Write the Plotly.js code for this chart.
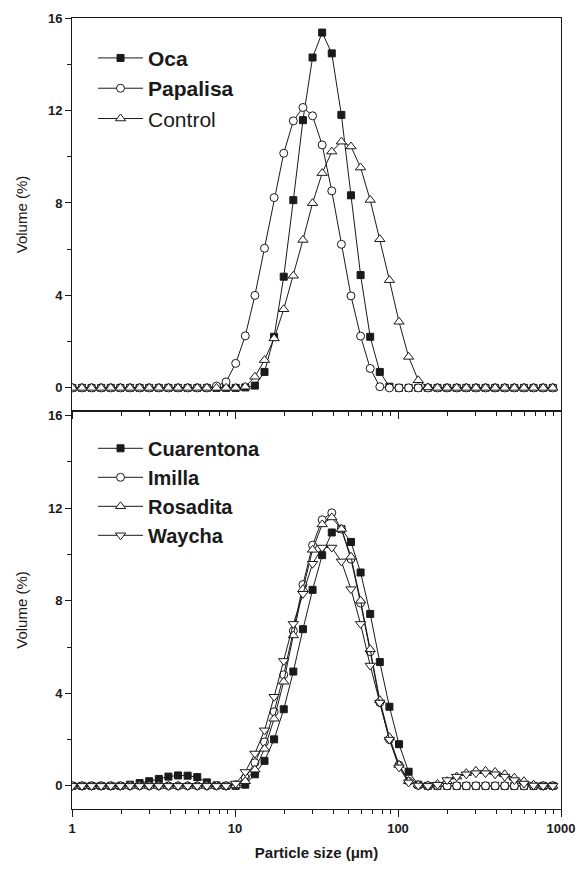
<!DOCTYPE html>
<html>
<head>
<meta charset="utf-8">
<script src="https://cdn.plot.ly/plotly-3.0.1.min.js"></script>
<style>body{margin:0;background:#fff}#chart{width:579px;height:869px}</style>
</head>
<body>
<div id="chart"></div>
<script>
// Particle size bins (µm)
const particleSize = [1.005,1.151,1.318,1.510,1.729,1.981,2.269,2.599,2.976,3.409,3.905,4.472,5.122,5.867,6.720,7.697,8.816,10.097,11.565,13.246,15.172,17.377,19.904,22.797,26.111,29.907,34.255,39.234,44.938,51.471,58.953,67.523,77.339,88.583,101.46,116.21,133.10,152.45,174.62,200.00,229.08,262.37,300.52,344.21,394.24,451.56,517.20,592.39,678.50,777.13,890.11];

// Top panel (Volume %)
const ocaVol = [0,0,0,0,0,0,0,0,0,0,0,0,0,0,0,0,0,0,0.02,0.1,0.69,2.21,4.81,8.12,11.58,14.29,15.37,14.47,11.81,8.33,4.88,2.21,0.69,0.05,0,0,0,0,0,0,0,0,0,0,0,0,0,0,0,0,0];
const papalisaVol = [0,0,0,0,0,0,0,0,0,0,0,0,0,0,0,0.08,0.26,1.06,2.25,4.0,6.04,8.23,10.15,11.55,12.13,11.77,10.51,8.52,6.21,3.98,2.24,0.84,0.05,0,0,0,0,0,0,0,0,0,0,0,0,0,0,0,0,0,0];
const controlVol = [0,0,0,0,0,0,0,0,0,0,0,0,0,0,0,0,0,0,0.05,0.48,1.2,2.14,3.4,4.85,6.4,7.99,9.29,10.22,10.65,10.44,9.53,8.13,6.43,4.66,2.86,1.34,0.33,0.02,0,0,0,0,0,0,0,0,0,0,0,0,0];

// Bottom panel (Volume %)
const cuarentonaVol = [0,0,0,0,0,0,0.05,0.12,0.2,0.3,0.4,0.45,0.44,0.38,0.15,0.02,0,0,0.05,0.5,1.08,2.01,3.31,4.94,6.77,8.47,9.97,10.95,11.1,10.54,9.22,7.43,5.35,3.42,1.8,0.61,0.05,0,0,0,0,0,0,0,0,0,0,0,0,0,0];
const imillaVol = [0,0,0,0,0,0,0,0,0,0,0,0,0,0,0,0,0,0.05,0.35,1.0,1.9,3.2,4.8,6.7,8.7,10.4,11.5,11.8,11.1,9.8,7.9,5.8,3.6,2.0,0.9,0.2,0.02,0,0,0,0,0,0,0,0,0,0,0,0,0,0];
const rosaditaVol = [0,0,0,0,0,0,0,0,0,0,0,0,0,0,0,0,0,0.02,0.2,0.7,1.6,2.9,4.5,6.5,8.5,10.2,11.3,11.6,11.1,9.9,8.0,5.9,3.7,2.1,0.9,0.2,0.05,0.02,0.08,0.2,0.4,0.55,0.65,0.65,0.6,0.5,0.35,0.2,0.05,0,0];
const waychaVol = [0,0,0,0,0,0,0,0,0,0,0,0,0,0,0,0,0,0.1,0.6,1.4,2.4,3.85,5.4,7.0,8.3,9.6,10.3,10.3,9.7,8.5,7.0,5.2,3.6,2.0,0.8,0.15,0.02,0,0.05,0.25,0.4,0.5,0.55,0.55,0.5,0.4,0.25,0.1,0.02,0,0];

const topNames = ['<b>Oca</b>','<b>Papalisa</b>','Control'];
const bottomNames = ['<b>Cuarentona</b>','<b>Imilla</b>','<b>Rosadita</b>','<b>Waycha</b>'];
const xTickVals = [1,10,100,1000];
const xTickText = ['1','10','100','1000'];
const yTickVals = [0,4,8,12,16];

const FONT = 'Arial, "Liberation Sans", sans-serif';
const INK = '#1a1a1a';

function tr(y, name, sym, fill, xa, ya, leg, size) {
  return {
    x: particleSize, y: y, name: name, type: 'scatter', mode: 'lines+markers',
    xaxis: xa, yaxis: ya, legend: leg,
    line: {color: INK, width: 1},
    marker: {symbol: sym, size: size, color: fill, line: {color: INK, width: 1}}
  };
}

const data = [
  tr(ocaVol, topNames[0], 'square', INK, 'x2', 'y2', 'legend', 7),
  tr(papalisaVol, topNames[1], 'circle', '#fff', 'x2', 'y2', 'legend', 8),
  tr(controlVol, topNames[2], 'triangle-up', '#fff', 'x2', 'y2', 'legend', 9),
  tr(cuarentonaVol, bottomNames[0], 'square', INK, 'x', 'y', 'legend2', 7),
  tr(imillaVol, bottomNames[1], 'circle', '#fff', 'x', 'y', 'legend2', 8),
  tr(rosaditaVol, bottomNames[2], 'triangle-up', '#fff', 'x', 'y', 'legend2', 9),
  tr(waychaVol, bottomNames[3], 'triangle-down', '#fff', 'x', 'y', 'legend2', 9)
];

const split = 398/791;

function xAxis(showLabels, domainAnchor) {
  return {
    type: 'log', range: [0, 3], anchor: domainAnchor,
    showline: true, linecolor: INK, linewidth: 1, mirror: true,
    ticks: 'outside', ticklen: 7, tickwidth: 1, tickcolor: INK,
    tickvals: xTickVals, ticktext: xTickText, showticklabels: showLabels,
    tickfont: {family: FONT, size: 13, color: INK, weight: 'bold'},
    minor: {ticks: 'outside', ticklen: 4, tickcolor: INK, tickwidth: 1,
            tickvals: [2,3,4,5,6,7,8,9,20,30,40,50,60,70,80,90,200,300,400,500,600,700,800,900]},
    showgrid: false, zeroline: false
  };
}
function yAxis(domain, range, anchor) {
  return {
    domain: domain, range: range, anchor: anchor,
    showline: true, linecolor: INK, linewidth: 1, mirror: true,
    ticks: 'outside', ticklen: 6, tickwidth: 1, tickcolor: INK,
    tickvals: yTickVals, ticktext: yTickVals.map(String),
    tickfont: {family: FONT, size: 13, color: INK, weight: 'bold'},
    minor: {ticks: 'outside', ticklen: 4, tickcolor: INK, tickwidth: 1, tickvals: [2,6,10,14]},
    showgrid: false, zeroline: false,
    title: {text: 'Volume (%)', font: {family: FONT, size: 15, color: INK}, standoff: 16}
  };
}

const layout = {
  width: 579, height: 869,
  margin: {l: 72, r: 18, t: 18, b: 60},
  paper_bgcolor: '#fff', plot_bgcolor: '#fff',
  font: {family: FONT, color: INK},
  xaxis: Object.assign(xAxis(true, 'y'), {
    title: {text: '<b>Particle size (μm)</b>', font: {family: FONT, size: 15, color: INK}, standoff: 12}
  }),
  xaxis2: xAxis(false, 'y2'),
  yaxis: yAxis([0, split], [-1, 16.2], 'x'),
  yaxis2: yAxis([split, 1], [-1, 16], 'x2'),
  legend: {x: 0.043, y: 0.975, xanchor: 'left', yanchor: 'top', bgcolor: 'rgba(0,0,0,0)',
           font: {family: FONT, size: 21, color: INK}, itemwidth: 45, tracegroupgap: 0},
  legend2: {x: 0.043, y: split - 0.0225, xanchor: 'left', yanchor: 'top', bgcolor: 'rgba(0,0,0,0)',
            font: {family: FONT, size: 20, color: INK}, itemwidth: 45, tracegroupgap: 0},
  showlegend: true
};

Plotly.newPlot('chart', data, layout, {displayModeBar: false, staticPlot: true});
</script>
</body>
</html>
